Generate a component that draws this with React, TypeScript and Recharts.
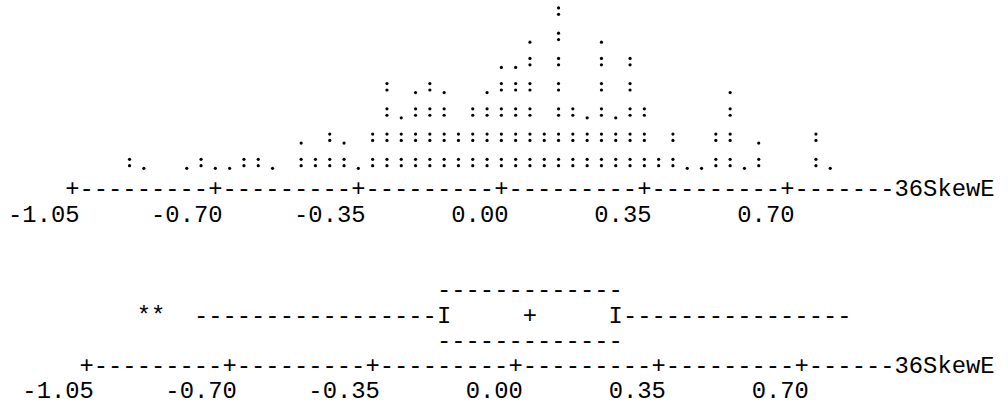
import { ReferenceLine, Scatter, ScatterChart, XAxis, YAxis } from "recharts";

// character dotplot: one bin per text column, count of observations in each
const binValues = [
  -0.91, -0.875, -0.77, -0.735, -0.7, -0.665, -0.63, -0.595, -0.56,
  -0.49, -0.455, -0.42, -0.385, -0.35, -0.315, -0.28, -0.245, -0.21, -0.175, -0.14, -0.105,
  -0.07, -0.035, 0, 0.035, 0.07, 0.105, 0.14, 0.175, 0.21, 0.245, 0.28, 0.315, 0.35, 0.385,
  0.42, 0.455, 0.49, 0.525, 0.56, 0.595, 0.63, 0.77, 0.805,
];
const binCounts = [
  2, 1, 1, 2, 1, 1, 2, 2, 1,
  3, 2, 4, 3, 1, 4, 8, 5, 7, 8, 7, 4,
  6, 7, 9, 9, 11, 4, 14, 6, 5, 11, 5, 10, 6, 2,
  4, 1, 1, 4, 7, 1, 3, 4, 1,
];

const axisTicks = [-1.05, -0.7, -0.35, 0, 0.35, 0.7];
const axisName = "36SkewE";

// character boxplot
const outliers = [-0.91, -0.875];
const whiskerLow = -0.77;
const q1 = -0.175;
const median = 0.035;
const q3 = 0.245;
const whiskerHigh = 0.805;

const WIDTH = 1008;
const CHAR_W = 14.3;
const LINE_H = 25.23;
const BIN = 0.035;
const FONT = "'Liberation Mono', 'Courier New', monospace";
const FONT_SIZE = CHAR_W / 0.6001;
const DOMAIN: [number, number] = [-1.05, 1.05];
const PLOT_W = (CHAR_W * (DOMAIN[1] - DOMAIN[0])) / BIN;

const TOP_H = 240;
const TOP_BASE = 171.2; // baseline of the lowest dot row
const BOT_H = 406 - TOP_H;
const BOT_BASE = 347.9 - TOP_H; // baseline of the lower box edge

const txt = { fontFamily: FONT, fontSize: FONT_SIZE, fill: "#000" };

const dotCells = binValues.flatMap((x, i) => {
  const n = binCounts[i];
  return Array.from({ length: Math.ceil(n / 2) }, (_, r) => ({
    x,
    y: r,
    glyph: r < Math.floor(n / 2) ? ":" : ".",
  }));
});

const boxGlyphs = [
  ...outliers.map((x) => ({ x, y: 1, glyph: "*" })),
  { x: q1, y: 1, glyph: "I" },
  { x: median, y: 1, glyph: "+" },
  { x: q3, y: 1, glyph: "I" },
];

function DotCell({ cx, cy, payload }: any) {
  if (payload.glyph === ":") {
    return (
      <g fill="#000">
        <circle cx={cx} cy={cy - 11.9} r={1.6} />
        <circle cx={cx} cy={cy - 5.5} r={1.6} />
      </g>
    );
  }
  return <circle cx={cx} cy={cy - 2.9} r={1.6} fill="#000" />;
}

function Glyph({ cx, cy, payload }: any) {
  return (
    <text x={cx} y={cy} textAnchor="middle" {...txt}>
      {payload.glyph}
    </text>
  );
}

function AxisTick({ x, y, payload, trail }: any) {
  const v = payload.value as number;
  const last = v === axisTicks[axisTicks.length - 1];
  const line = last ? "+" + "-".repeat(trail) + axisName : "+" + "-".repeat(9);
  return (
    <g>
      <text x={x - CHAR_W / 2} y={y + LINE_H} textAnchor="start" {...txt}>
        {line}
      </text>
      <text x={x + CHAR_W / 2} y={y + 2 * LINE_H} textAnchor="end" {...txt}>
        {v.toFixed(2)}
      </text>
    </g>
  );
}

const dashRun = (skipStart: number, skipEnd: number) => (p: any) => {
  const x1 = Math.min(p.x1, p.x2);
  const x2 = Math.max(p.x1, p.x2);
  const n = Math.round((x2 - x1) / CHAR_W) + 1 - skipStart - skipEnd;
  return (
    <text x={x1 - CHAR_W / 2 + skipStart * CHAR_W} y={p.y1} textAnchor="start" {...txt}>
      {"-".repeat(n)}
    </text>
  );
};

export default function App() {
  const topLeft = 8 + CHAR_W * 4.5;
  const botLeft = 8 + CHAR_W * 5.5;
  return (
    <div style={{ width: WIDTH, height: 406, overflow: "hidden", background: "#fff" }}>
      <style>{"body{margin:0}"}</style>
      <ScatterChart
        width={WIDTH}
        height={TOP_H}
        margin={{ top: TOP_BASE - 6 * LINE_H, right: WIDTH - topLeft - PLOT_W, bottom: TOP_H - TOP_BASE - 60, left: topLeft }}
      >
        <XAxis
          type="number"
          dataKey="x"
          domain={DOMAIN}
          ticks={axisTicks}
          interval={0}
          height={60}
          axisLine={false}
          tickLine={false}
          tickSize={0}
          tickMargin={0}
          tick={(p: any) => <AxisTick {...p} trail={7} />}
        />
        <YAxis type="number" dataKey="y" domain={[0, 6]} hide />
        <Scatter data={dotCells} shape={(p: any) => <DotCell {...p} />} isAnimationActive={false} />
      </ScatterChart>
      <ScatterChart
        width={WIDTH}
        height={BOT_H}
        margin={{ top: BOT_BASE - 2 * LINE_H, right: WIDTH - botLeft - PLOT_W, bottom: BOT_H - BOT_BASE - 55, left: botLeft }}
      >
        <XAxis
          type="number"
          dataKey="x"
          domain={DOMAIN}
          ticks={axisTicks}
          interval={0}
          height={55}
          axisLine={false}
          tickLine={false}
          tickSize={0}
          tickMargin={0}
          tick={(p: any) => <AxisTick {...p} trail={6} />}
        />
        <YAxis type="number" dataKey="y" domain={[0, 2]} hide />
        <ReferenceLine segment={[{ x: q1, y: 2 }, { x: q3, y: 2 }]} shape={dashRun(0, 0)} ifOverflow="visible" />
        <ReferenceLine segment={[{ x: q1, y: 0 }, { x: q3, y: 0 }]} shape={dashRun(0, 0)} ifOverflow="visible" />
        <ReferenceLine segment={[{ x: whiskerLow, y: 1 }, { x: q1, y: 1 }]} shape={dashRun(0, 1)} ifOverflow="visible" />
        <ReferenceLine segment={[{ x: q3, y: 1 }, { x: whiskerHigh, y: 1 }]} shape={dashRun(1, 0)} ifOverflow="visible" />
        <Scatter data={boxGlyphs} shape={(p: any) => <Glyph {...p} />} isAnimationActive={false} />
      </ScatterChart>
    </div>
  );
}
